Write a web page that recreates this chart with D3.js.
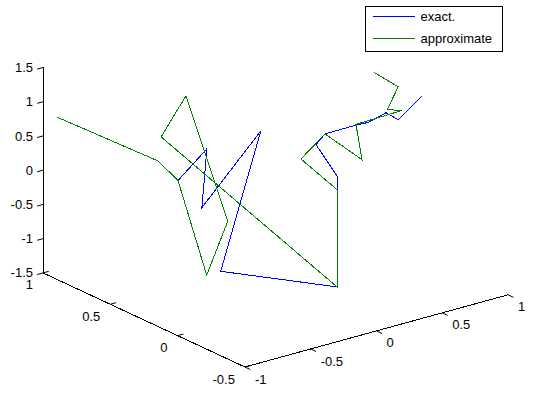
<!DOCTYPE html>
<html>
<head>
<meta charset="utf-8">
<script src="https://cdn.jsdelivr.net/npm/d3@7"></script>
<style>
  body { margin: 0; background: #fff; }
  text { font-family: "Liberation Sans", Arial, sans-serif; font-size: 13px; fill: #000; }
</style>
</head>
<body>
<div id="chart"></div>
<script>
// axis ticks
var xTicks = [-1, -0.5, 0, 0.5, 1];
var yTicks = [-0.5, 0, 0.5, 1];
var zTicks = [-1.5, -1, -0.5, 0, 0.5, 1, 1.5];

// exact. (blue)
var exactX = [-0.383, -0.368, -0.406, -0.06, -0.365, 0.263, 0.263, 0.154, 0.223, 0.364, 0.448, 0.585, 0.677, 0.86];
var exactY = [0.6, 0.4, 0.4, 0.3, 0.3, 0.05, 0.05, 0.1, 0.1, 0.0, 0.0, 0.0, 0.0, 0.0];
var exactZ = [-0.11, 0.53, -0.31, 0.72, -1.17, -1.5, 0.12, 0.59, 0.71, 0.86, 0.85, 0.92, 0.77, 1.02];

// approximate (green)
var approxX = [-0.894, -0.432, -0.383, -0.472, -0.414, -0.425, -0.409, 0.263, 0.263, 0.04, 0.223, 0.402, 0.356, 0.707, 0.593, 0.677, 0.597];
var approxY = [1.0, 0.7, 0.6, 0.3, 0.2, 0.5, 0.7, 0.05, 0.05, 0.1, 0.1, 0.0, 0.0, 0.0, 0.0, 0.0, 0.1];
var approxZ = [0.72, 0.11, -0.11, -1.17, -0.32, 1.24, 0.45, -1.5, -0.08, 0.44, 0.71, 0.33, 0.87, 0.89, 0.96, 1.25, 1.41];

var width = 536, height = 394;

var svg = d3.select("#chart")
    .append("svg")
    .attr("width", width)
    .attr("height", height);

// normalise each axis into the unit box
var xScale = d3.scaleLinear().domain([-1, 1]).range([-0.5, 0.5]);
var yScale = d3.scaleLinear().domain([-0.5, 1]).range([-0.5, 0.5]);
var zScale = d3.scaleLinear().domain([-1.5, 1.5]).range([-0.5, 0.5]);

// default 3d view, az -37.5 el 30
var az = -37.5 * Math.PI / 180, el = 30 * Math.PI / 180;
var hOf = function(p) { return Math.cos(az) * p[0] + Math.sin(az) * p[1]; };
var vOf = function(p) {
    return -Math.sin(el) * Math.sin(az) * p[0] + Math.sin(el) * Math.cos(az) * p[1] + Math.cos(el) * p[2];
};
var hMax = hOf([0.5, -0.5, 0]), vMax = vOf([0.5, 0.5, 0.5]);

var hScale = d3.scaleLinear().domain([-hMax, hMax]).range([43, 508]);
var vScale = d3.scaleLinear().domain([-vMax, vMax]).range([367, -4.7]);

var project = function(x, y, z) {
    var p = [xScale(x), yScale(y), zScale(z)];
    return [hScale(hOf(p)), vScale(vOf(p))];
};

var line = d3.line();

var axes = svg.append("g").attr("class", "axes");

// axis lines
var axisLines = [
    [[-1, -0.5, -1.5], [1, -0.5, -1.5]],
    [[-1, -0.5, -1.5], [-1, 1, -1.5]],
    [[-1, 1, -1.5], [-1, 1, 1.5]]
];
axisLines.forEach(function(d) {
    axes.append("path")
        .attr("d", line(d.map(function(p) { return project(p[0], p[1], p[2]); })))
        .attr("fill", "none")
        .attr("stroke", "#000")
        .attr("stroke-width", 1)
        .style("shape-rendering", "crispEdges");
});

// tick direction helper
var unitDir = function(a, b) {
    var dx = b[0] - a[0], dy = b[1] - a[1], l = Math.sqrt(dx * dx + dy * dy);
    return [dx / l, dy / l];
};
var tickLen = 6;
var dirX = unitDir(project(-1, 0, -1.5), project(1, 0, -1.5));   // +x on screen
var dirY = unitDir(project(0, 1, -1.5), project(0, -0.5, -1.5));  // -y on screen

// x ticks
xTicks.forEach(function(t) {
    var p = project(t, -0.5, -1.5);
    axes.append("line")
        .attr("x1", p[0]).attr("y1", p[1])
        .attr("x2", p[0] + dirY[0] * tickLen).attr("y2", p[1] + dirY[1] * tickLen)
        .attr("stroke", "#000");
    axes.append("text")
        .attr("x", p[0] + 10).attr("y", p[1] + 12)
        .attr("dy", "0.35em")
        .text(t);
});

// y ticks
yTicks.forEach(function(t) {
    var p = project(-1, t, -1.5);
    axes.append("line")
        .attr("x1", p[0]).attr("y1", p[1])
        .attr("x2", p[0] + dirX[0] * tickLen).attr("y2", p[1] + dirX[1] * tickLen)
        .attr("stroke", "#000");
    axes.append("text")
        .attr("x", p[0] - 10).attr("y", p[1] + 12)
        .attr("dy", "0.35em")
        .attr("text-anchor", "end")
        .text(t);
});

// z ticks
zTicks.forEach(function(t) {
    var p = project(-1, 1, t);
    axes.append("line")
        .attr("x1", p[0]).attr("y1", p[1])
        .attr("x2", p[0] - dirX[0] * tickLen).attr("y2", p[1] - dirX[1] * tickLen)
        .attr("stroke", "#000");
    axes.append("text")
        .attr("x", p[0] - 10).attr("y", p[1])
        .attr("dy", "0.35em")
        .attr("text-anchor", "end")
        .text(t);
});

// data lines
var series = [
    {name: "exact.", color: "#0000ff", x: exactX, y: exactY, z: exactZ},
    {name: "approximate", color: "#008000", x: approxX, y: approxY, z: approxZ}
];

series.forEach(function(s) {
    var pts = s.x.map(function(d, i) { return project(s.x[i], s.y[i], s.z[i]); });
    svg.append("path")
        .attr("d", line(pts))
        .attr("fill", "none")
        .attr("stroke", s.color)
        .attr("stroke-width", 1)
        .style("shape-rendering", "crispEdges");
});

// legend
var legend = svg.append("g").attr("transform", "translate(365.5,6.5)");
legend.append("rect")
    .attr("width", 137).attr("height", 45)
    .attr("fill", "#fff").attr("stroke", "#000");
series.forEach(function(s, i) {
    var ly = 10 + i * 22;
    legend.append("line")
        .attr("x1", 7.5).attr("x2", 49.5)
        .attr("y1", ly).attr("y2", ly)
        .attr("stroke", s.color);
    legend.append("text")
        .attr("x", 55).attr("y", ly)
        .attr("dy", "0.35em")
        .text(s.name);
});
</script>
</body>
</html>
